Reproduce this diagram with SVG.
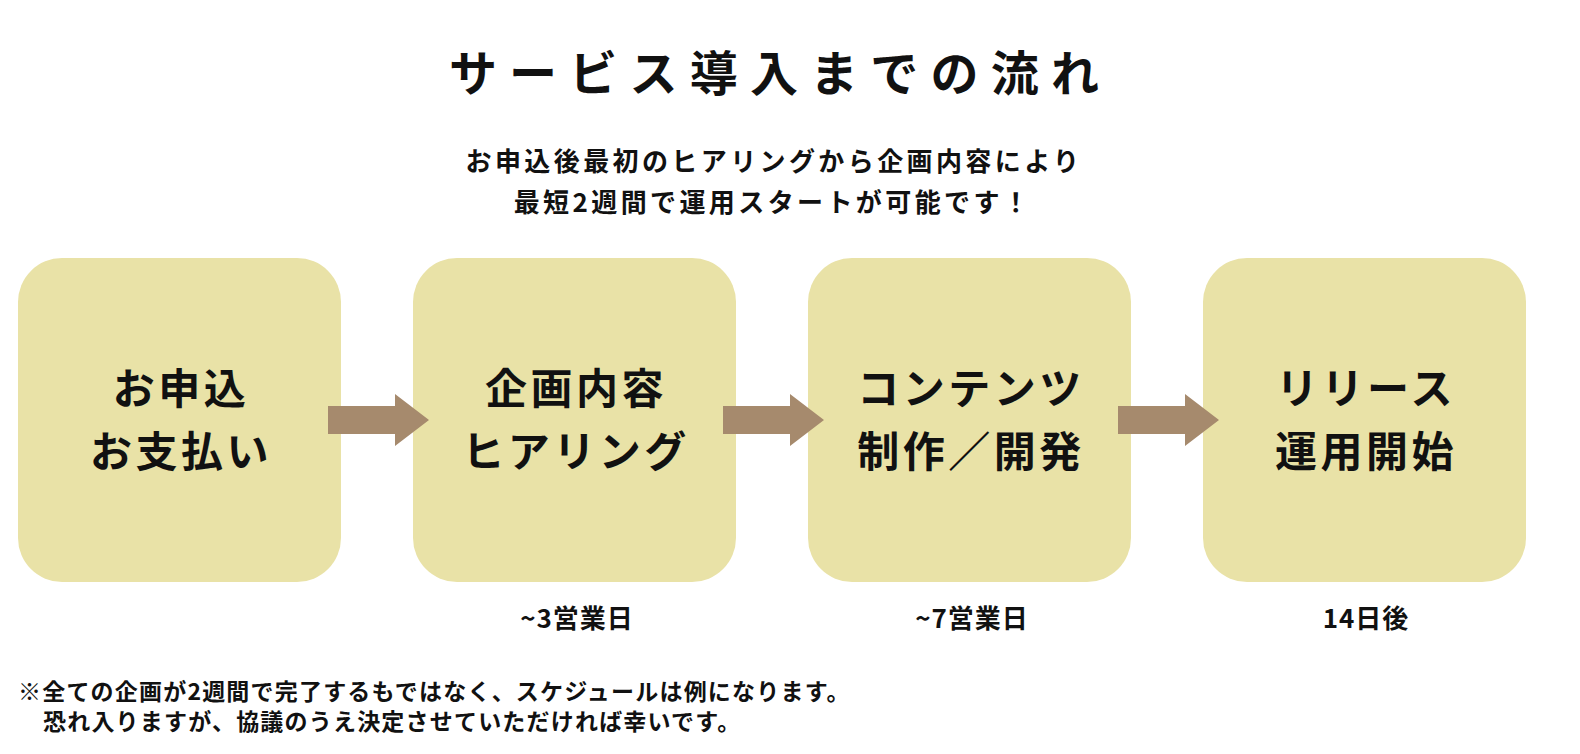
<svg xmlns="http://www.w3.org/2000/svg" width="1580" height="754" viewBox="0 0 1580 754">
<style>
text{font-family:"Noto Sans CJK JP","Noto Sans CJK SC",sans-serif;font-weight:700;fill:#111;}
.title{font-size:48px;letter-spacing:12.2px;text-anchor:middle;}
.sub{font-size:26px;letter-spacing:3.4px;text-anchor:middle;}
.box{fill:#E9E2A7;}
.label{font-size:42px;letter-spacing:3.5px;text-anchor:middle;}
.days{font-size:26px;letter-spacing:1px;text-anchor:middle;}
.note{font-size:23px;letter-spacing:1.2px;}
.arrow{fill:#A68A6D;}
</style>
<defs>
<polygon id="arr" points="0,-14 67,-14 67,-26 101,0 67,26 67,14 0,14"/>
</defs>
<text class="title" x="780" y="91">サービス導入までの流れ</text>
<text class="sub" x="774" y="171">お申込後最初のヒアリングから企画内容により</text>
<text class="sub" x="773" y="212">最短2週間で運用スタートが可能です！</text>
<g id="node1">
<rect class="box" x="18" y="258" width="323" height="324" rx="44"/>
<text class="label" x="181" y="404">お申込</text>
<text class="label" x="181" y="467">お支払い</text>
</g>
<g id="node2">
<rect class="box" x="413" y="258" width="323" height="324" rx="44"/>
<text class="label" x="576" y="404">企画内容</text>
<text class="label" x="576" y="467">ヒアリング</text>
</g>
<g id="node3">
<rect class="box" x="808" y="258" width="323" height="324" rx="44"/>
<text class="label" x="971" y="404">コンテンツ</text>
<text class="label" x="971" y="467">制作／開発</text>
</g>
<g id="node4">
<rect class="box" x="1203" y="258" width="323" height="324" rx="44"/>
<text class="label" x="1366" y="404">リリース</text>
<text class="label" x="1366" y="467">運用開始</text>
</g>
<g id="connectors">
<use href="#arr" class="arrow" x="328" y="420"/>
<use href="#arr" class="arrow" x="723" y="420"/>
<use href="#arr" class="arrow" x="1118" y="420"/>
</g>
<g id="durations">
<text class="days" x="577" y="628">~3営業日</text>
<text class="days" x="972" y="628">~7営業日</text>
<text class="days" x="1366" y="628">14日後</text>
</g>
<text class="note" x="18" y="700">※全ての企画が2週間で完了するもではなく、スケジュールは例になります。</text>
<text class="note" x="43" y="730">恐れ入りますが、協議のうえ決定させていただければ幸いです。</text>
</svg>
